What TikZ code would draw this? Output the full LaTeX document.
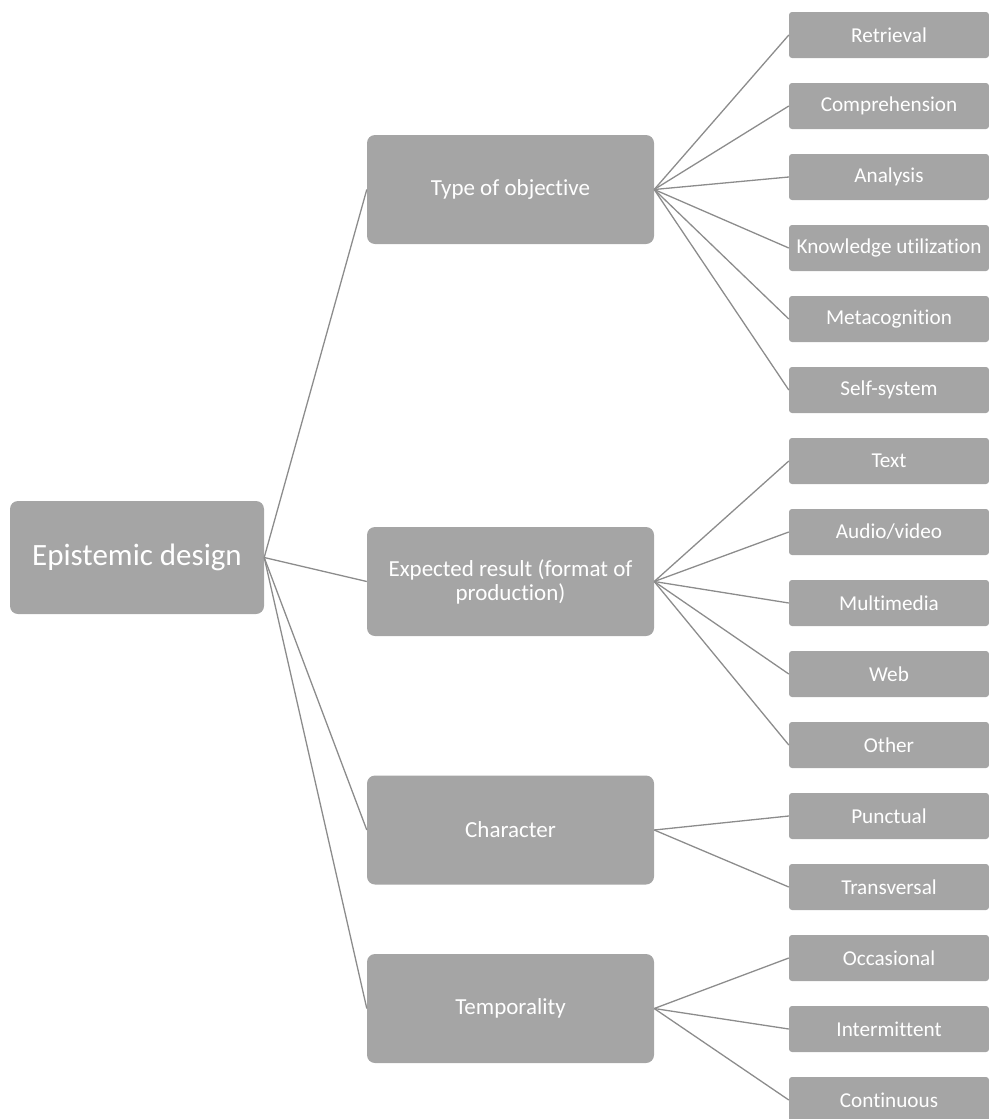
\documentclass[tikz,border=0pt]{standalone}
\usepackage{fontspec}
\setmainfont[Ligatures=CommonOff]{Carlito}
\definecolor{boxgray}{HTML}{A5A5A5}
\definecolor{linegray}{HTML}{8C8C8C}
\tikzset{
  rootbox/.style={rectangle, rounded corners=8pt, fill=boxgray, text=white, inner sep=0pt,
    minimum width=254pt, minimum height=113pt, font=\fontsize{31}{35}\selectfont},
  midbox/.style={rectangle, rounded corners=8pt, fill=boxgray, text=white, inner sep=0pt,
    minimum width=287pt, minimum height=109pt, align=center, font=\fontsize{23}{24}\selectfont},
  leafbox/.style={rectangle, rounded corners=3pt, fill=boxgray, text=white, inner sep=0pt,
    minimum width=200pt, minimum height=46pt, font=\fontsize{21.2}{24}\selectfont},
  link/.style={draw=linegray, line width=1.3pt}
}
\begin{document}
\begin{tikzpicture}[x=1pt,y=-1pt]
\useasboundingbox (0,0) rectangle (988,1119);
\node[rootbox] (root) at (137,557.5) {Epistemic design};
\node[midbox] (obj) at (510.5,189.5) {Type of objective};
\node[midbox] (res) at (510.5,581.5) {Expected result (format of\\production)};
\node[midbox] (cha) at (510.5,830) {Character};
\node[midbox] (tem) at (510.5,1008.5) {Temporality};
\foreach \n/\t/\y in {l1/Retrieval/35, l2/Comprehension/106, l3/Analysis/177,
  l4/Knowledge utilization/248, l5/Metacognition/319, l6/Self-system/390,
  l7/Text/461, l8/Audio\slash video/532, l9/Multimedia/603, l10/Web/674,
  l11/Other/745, l12/Punctual/816, l13/Transversal/887, l14/Occasional/958,
  l15/Intermittent/1029, l16/Continuous/1100}{
  \node[leafbox] (\n) at (889,\y) {\t};
}
\foreach \m in {obj,res,cha,tem}{
  \draw[link] (root.east) -- (\m.west);
}
\foreach \l in {l1,l2,l3,l4,l5,l6}{\draw[link] (obj.east) -- (\l.west);}
\foreach \l in {l7,l8,l9,l10,l11}{\draw[link] (res.east) -- (\l.west);}
\foreach \l in {l12,l13}{\draw[link] (cha.east) -- (\l.west);}
\foreach \l in {l14,l15,l16}{\draw[link] (tem.east) -- (\l.west);}
\end{tikzpicture}
\end{document}
